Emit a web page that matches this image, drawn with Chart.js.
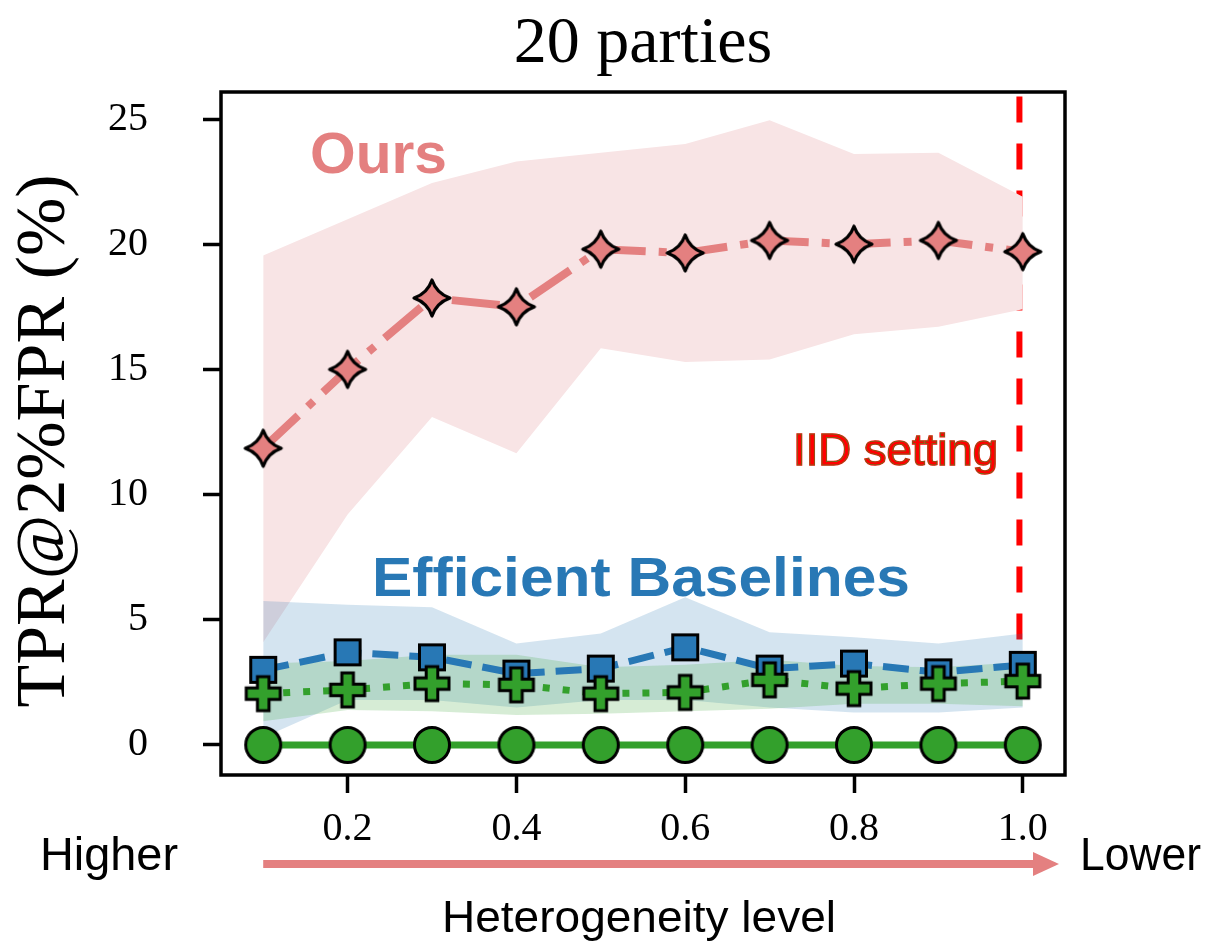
<!DOCTYPE html>
<html>
<head>
<meta charset="utf-8">
<script src="https://cdn.jsdelivr.net/npm/chart.js@4.4.1/dist/chart.umd.min.js"></script>
<style>
  html, body { margin: 0; padding: 0; background: #fff; }
  canvas { display: block; }
</style>
</head>
<body>
<canvas id="chart" width="1209" height="943"></canvas>
<script>
// heterogeneity levels (x) and TPR@2%FPR values (%)
const levels = [0.1, 0.2, 0.3, 0.4, 0.5, 0.6, 0.7, 0.8, 0.9, 1.0];

const oursMean  = [11.85, 15.0, 17.85, 17.5, 19.8, 19.65, 20.15, 20.0, 20.15, 19.7];
const oursUpper = [19.55, 21.0, 22.45, 23.3, 23.65, 24.0, 24.95, 23.6, 23.65, 21.9];
const oursLower = [4.1, 9.2, 13.1, 11.65, 15.85, 15.3, 15.4, 16.4, 16.7, 17.4];

const baseAMean  = [3.0, 3.7, 3.5, 2.85, 3.05, 3.9, 3.05, 3.25, 2.9, 3.2];
const baseAUpper = [5.75, 5.6, 5.5, 4.05, 4.45, 5.9, 4.5, 4.3, 4.05, 4.45];
const baseALower = [0.3, 1.8, 1.8, 1.5, 1.8, 1.8, 1.5, 1.3, 1.3, 1.5];

const baseBMean  = [2.05, 2.2, 2.45, 2.4, 2.05, 2.1, 2.6, 2.25, 2.45, 2.55];
const baseBUpper = [3.25, 3.35, 3.6, 3.6, 3.1, 3.2, 3.4, 3.15, 3.1, 3.3];
const baseBLower = [0.95, 1.4, 1.35, 1.2, 1.25, 1.35, 1.45, 1.65, 1.65, 1.55];

const baseCMean = [0, 0, 0, 0, 0, 0, 0, 0, 0, 0];

const xTicks = [0.2, 0.4, 0.6, 0.8, 1.0];
const yTicks = [0, 5, 10, 15, 20, 25];

// IID marker line
const iidLevel = 0.996;
const iidRange = [26.1, 2.6];

const PINK = "#E48080";
const BLUE = "#2878B5";
const GREEN = "#33A02C";

const toPts = (ys) => levels.map((x, i) => ({ x: x, y: ys[i] }));

// marker images
function markerCanvas(size, draw) {
  const c = document.createElement("canvas");
  c.width = size;
  c.height = size;
  const g = c.getContext("2d");
  g.translate(size / 2, size / 2);
  g.lineWidth = 3;
  g.strokeStyle = "#000";
  draw(g);
  return c;
}

const starImg = markerCanvas(44, (g) => {
  const r = 18, k = 4.6;
  g.beginPath();
  g.moveTo(0, -r);
  g.quadraticCurveTo(k, -k, r, 0);
  g.quadraticCurveTo(k, k, 0, r);
  g.quadraticCurveTo(-k, k, -r, 0);
  g.quadraticCurveTo(-k, -k, 0, -r);
  g.closePath();
  g.fillStyle = PINK;
  g.fill();
  g.lineJoin = "round";
  g.lineWidth = 3.2;
  g.stroke();
});

const squareImg = markerCanvas(32, (g) => {
  g.fillStyle = BLUE;
  g.fillRect(-12.5, -12.5, 25, 25);
  g.lineJoin = "miter";
  g.strokeRect(-12.5, -12.5, 25, 25);
});

const plusImg = markerCanvas(42, (g) => {
  const a = 17, w = 5.8;
  g.beginPath();
  g.moveTo(-w, -a);
  g.lineTo(w, -a);
  g.lineTo(w, -w);
  g.lineTo(a, -w);
  g.lineTo(a, w);
  g.lineTo(w, w);
  g.lineTo(w, a);
  g.lineTo(-w, a);
  g.lineTo(-w, w);
  g.lineTo(-a, w);
  g.lineTo(-a, -w);
  g.lineTo(-w, -w);
  g.closePath();
  g.fillStyle = GREEN;
  g.fill();
  g.lineJoin = "miter";
  g.stroke();
});

const circleImg = markerCanvas(42, (g) => {
  g.beginPath();
  g.arc(0, 0, 17.5, 0, Math.PI * 2);
  g.fillStyle = GREEN;
  g.fill();
  g.stroke();
});

function band(ys, color, order, fill) {
  return {
    data: toPts(ys),
    borderWidth: 0,
    pointRadius: 0,
    fill: fill,
    backgroundColor: color,
    order: order,
  };
}

function series(ys, color, dash, width, img, order) {
  return {
    data: toPts(ys),
    borderColor: color,
    borderWidth: width,
    borderDash: dash,
    pointStyle: img,
    pointRadius: 18,
    fill: false,
    order: order,
  };
}

const datasets = [
  {
    data: [
      { x: iidLevel, y: iidRange[0] },
      { x: iidLevel, y: iidRange[1] },
    ],
    borderColor: "#FF0000",
    borderWidth: 6,
    borderDash: [26, 21],
    borderDashOffset: 42,
    pointRadius: 0,
    fill: false,
    order: 100,
  },
  band(oursUpper, "#F8E4E5", 90, "+1"),
  band(oursLower, "transparent", 89, false),
  band(baseAUpper, "rgba(40,120,181,0.2)", 80, "+1"),
  band(baseALower, "transparent", 79, false),
  band(baseBUpper, "rgba(51,160,44,0.2)", 70, "+1"),
  band(baseBLower, "transparent", 69, false),
  series(oursMean, PINK, [48, 13, 8, 13], 8, starImg, 4),
  series(baseAMean, BLUE, [26, 11], 7, squareImg, 3),
  series(baseBMean, GREEN, [7, 13], 7, plusImg, 2),
  series(baseCMean, GREEN, [], 7, circleImg, 1),
];

function fitText(ctx, text, x, y, font, color, width) {
  ctx.save();
  ctx.font = font;
  ctx.fillStyle = color;
  ctx.textAlign = "left";
  ctx.textBaseline = "alphabetic";
  const w = ctx.measureText(text).width;
  ctx.translate(x, y);
  ctx.scale(width / w, 1);
  ctx.fillText(text, 0, 0);
  ctx.restore();
}

const decor = {
  id: "decor",
  afterDraw(chart) {
    const ctx = chart.ctx;
    const a = chart.chartArea;
    const xs = chart.scales.x;

    // frame
    ctx.save();
    ctx.strokeStyle = "#000";
    ctx.lineWidth = 3.5;
    ctx.strokeRect(a.left, a.top, a.right - a.left, a.bottom - a.top);
    ctx.restore();

    // title
    ctx.save();
    ctx.fillStyle = "#000";
    ctx.font = '66px "Liberation Serif"';
    ctx.textAlign = "center";
    ctx.fillText("20 parties", (a.left + a.right) / 2, 62);
    ctx.restore();

    // y axis title
    ctx.save();
    ctx.translate(64, 441);
    ctx.rotate(-Math.PI / 2);
    ctx.fillStyle = "#000";
    ctx.font = '70px "Liberation Serif"';
    ctx.textAlign = "center";
    ctx.fillText("TPR@2%FPR (%)", 0, 0);
    ctx.restore();

    // annotations inside the plot
    fitText(ctx, "Ours", 310, 173, 'bold 57px "Liberation Sans"', PINK, 137);
    fitText(ctx, "Efficient Baselines", 372, 596, 'bold 56px "Liberation Sans"', BLUE, 538);

    ctx.save();
    ctx.font = '44px "Liberation Sans"';
    ctx.textAlign = "left";
    const iid = "IID setting";
    const iw = ctx.measureText(iid).width;
    ctx.translate(793, 465);
    ctx.scale(205 / iw, 1);
    ctx.lineWidth = 1.6;
    ctx.strokeStyle = "#FF0000";
    ctx.strokeText(iid, 0, 0);
    ctx.fillStyle = "#FF0000";
    ctx.fillText(iid, 0, 0);
    ctx.lineWidth = 0.5;
    ctx.strokeStyle = "#2CA02C";
    ctx.strokeText(iid, 0, 0);
    ctx.restore();

    // heterogeneity arrow
    const x0 = xs.getPixelForValue(levels[0]);
    ctx.save();
    ctx.fillStyle = PINK;
    ctx.fillRect(x0, 860, 1033 - x0, 8);
    ctx.beginPath();
    ctx.moveTo(1033, 852);
    ctx.lineTo(1059, 864);
    ctx.lineTo(1033, 876);
    ctx.closePath();
    ctx.fill();
    ctx.restore();

    fitText(ctx, "Higher", 40, 870, '46px "Liberation Sans"', "#000", 138);
    fitText(ctx, "Lower", 1080, 870, '46px "Liberation Sans"', "#000", 121);
    fitText(ctx, "Heterogeneity level", 442, 932, '44px "Liberation Sans"', "#000", 394);
  },
};

const serifTicks = { family: "Liberation Serif", size: 40 };

new Chart(document.getElementById("chart"), {
  type: "line",
  data: { datasets: datasets },
  options: {
    responsive: false,
    animation: false,
    layout: { padding: { top: 92, right: 144, left: 0, bottom: 0 } },
    plugins: {
      legend: { display: false },
      tooltip: { enabled: false },
      filler: { propagate: false },
    },
    elements: { line: { tension: 0 } },
    scales: {
      x: {
        type: "linear",
        min: 0.05,
        max: 1.05,
        afterBuildTicks: (s) => { s.ticks = xTicks.map((v) => ({ value: v })); },
        afterFit: (s) => { s.height = 168; },
        border: { display: false },
        grid: { drawOnChartArea: false, drawTicks: true, tickLength: 18, tickWidth: 3.5, tickColor: "#000" },
        ticks: { color: "#000", font: serifTicks, padding: 12, callback: (v) => v.toFixed(1) },
      },
      y: {
        type: "linear",
        min: -1.2,
        max: 26.08,
        afterBuildTicks: (s) => { s.ticks = yTicks.map((v) => ({ value: v })); },
        afterFit: (s) => { s.width = 221; },
        border: { display: false },
        grid: { drawOnChartArea: false, drawTicks: true, tickLength: 18, tickWidth: 3.5, tickColor: "#000" },
        ticks: { color: "#000", font: serifTicks, padding: 55, callback: (v) => String(v) },
      },
    },
  },
  plugins: [decor],
});
</script>
</body>
</html>
